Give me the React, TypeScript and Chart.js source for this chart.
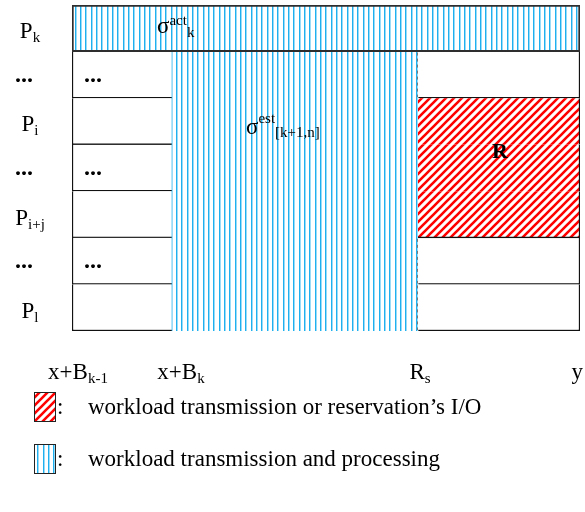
import React, { useEffect, useRef } from 'react';
import { Chart, registerables } from 'chart.js';

Chart.register(...registerables);

// ---- data ----
const rowNames = ['P', '...', 'P', '...', 'P', '...', 'P'];
const rowSubs = ['k', '', 'i', '', 'i+j', '', 'l'];

const xBreaks = [0, 100, 346, 508];
const xTickMain = ['x+B', 'x+B', 'R', 'y'];
const xTickSubs = ['k-1', 'k', 's', ''];

// floating spans [start, end] per row (null = nothing in that row)
const actualSpan = [[0, 508], null, null, null, null, null, null];
const estimateSpan = [null, [100, 346], [100, 346], [100, 346], [100, 346], [100, 346], [100, 346]];
const reservationSpan = [null, null, [346, 508], [346, 508], [346, 508], null, null];
const leftCellSpan = [null, [0, 100], [0, 100], [0, 100], [0, 100], [0, 100], [0, 100]];
const rightCellSpan = [null, [346, 508], null, null, null, [346, 508], [346, 508]];
const cellDotRows = [1, 3, 5];

const legendTexts = ["workload transmission or reservation\u2019s I/O", 'workload transmission and processing'];

// ---- styling helpers ----
const SERIF = '"Liberation Serif", "Times New Roman", serif';
type Part = { t: string; size: number; dy: number; bold?: boolean };
const fontOf = (p: Part) => `${p.bold ? 'bold ' : ''}${p.size}px ${SERIF}`;

function partsWidth(ctx: CanvasRenderingContext2D, parts: Part[]) {
  let w = 0;
  for (const p of parts) {
    ctx.font = fontOf(p);
    w += ctx.measureText(p.t).width;
  }
  return w;
}

function drawParts(ctx: CanvasRenderingContext2D, parts: Part[], x: number, y: number, align: 'left' | 'center' = 'left') {
  let cx = align === 'center' ? x - partsWidth(ctx, parts) / 2 : x;
  ctx.textAlign = 'left';
  ctx.textBaseline = 'alphabetic';
  for (const p of parts) {
    ctx.font = fontOf(p);
    ctx.fillText(p.t, cx, y + p.dy);
    cx += ctx.measureText(p.t).width;
  }
}

const withSub = (main: string, sub: string, bold = false): Part[] => {
  const out: Part[] = [{ t: main, size: 23, dy: 0, bold }];
  if (sub) out.push({ t: sub, size: 15, dy: 4 });
  return out;
};

function makeBluePattern(ctx: CanvasRenderingContext2D) {
  const c = document.createElement('canvas');
  c.width = 16;
  c.height = 16;
  const g = c.getContext('2d')!;
  g.fillStyle = '#ffffff';
  g.fillRect(0, 0, 16, 16);
  for (const x of [0, 5, 11]) {
    g.fillStyle = '#1fb0ef';
    g.fillRect(x, 0, 1, 16);
    g.fillStyle = 'rgba(31,176,239,0.45)';
    g.fillRect(x + 1, 0, 1, 16);
  }
  return ctx.createPattern(c, 'repeat')!;
}

function makeRedPattern(ctx: CanvasRenderingContext2D) {
  const s = 8;
  const c = document.createElement('canvas');
  c.width = s;
  c.height = s;
  const g = c.getContext('2d')!;
  g.fillStyle = '#ffffff';
  g.fillRect(0, 0, s, s);
  g.strokeStyle = '#ff0000';
  g.lineWidth = 2.6;
  g.beginPath();
  g.moveTo(-2, s + 2);
  g.lineTo(s + 2, -2);
  g.moveTo(-4, 4);
  g.lineTo(4, -4);
  g.moveTo(s - 4, s + 4);
  g.lineTo(s + 4, s - 4);
  g.stroke();
  return ctx.createPattern(c, 'repeat')!;
}

const textPlugin = {
  id: 'diagramText',
  afterDatasetsDraw(chart: any) {
    const { ctx, scales, chartArea } = chart;
    const xs = scales.x;
    const ys = scales.y;
    const band = (chartArea.bottom - chartArea.top) / rowNames.length;
    ctx.save();

    // dashed boundary at R_s where no reservation block
    ctx.strokeStyle = '#7a7a7a';
    ctx.lineWidth = 1;
    ctx.setLineDash([3, 3]);
    const dx = Math.round(xs.getPixelForValue(xBreaks[2])) - 0.5;
    for (let i = 1; i < rowNames.length; i++) {
      if (reservationSpan[i]) continue;
      const cy = ys.getPixelForValue(i);
      ctx.beginPath();
      ctx.moveTo(dx, cy - band / 2 + 1);
      ctx.lineTo(dx, cy + band / 2 - 1);
      ctx.stroke();
    }
    ctx.setLineDash([]);

    ctx.fillStyle = '#000';
    // row labels
    for (let i = 0; i < rowNames.length; i++) {
      const cy = ys.getPixelForValue(i);
      if (rowNames[i] === '...') {
        drawParts(ctx, [{ t: '...', size: 24, dy: 0, bold: true }], chartArea.left - 48, cy + 7, 'center');
      } else {
        drawParts(ctx, withSub(rowNames[i], rowSubs[i]), chartArea.left - 42, cy + 10, 'center');
      }
    }
    // dots inside left cells
    for (const r of cellDotRows) {
      const cy = ys.getPixelForValue(r);
      drawParts(ctx, [{ t: '...', size: 24, dy: 0, bold: true }], xs.getPixelForValue(xBreaks[0]) + 21, cy + 7, 'center');
    }
    // x tick labels
    const baseY = chartArea.bottom + 48;
    const shifts = [6, 9, 2, 0];
    for (let i = 0; i < xBreaks.length; i++) {
      const parts = withSub(xTickMain[i], xTickSubs[i]);
      const w = partsWidth(ctx, parts);
      let cx = xs.getPixelForValue(xBreaks[i]) + shifts[i];
      cx = Math.min(cx, chart.width - 2 - w / 2);
      drawParts(ctx, parts, cx, baseY, 'center');
    }
    // sigma act
    drawParts(
      ctx,
      [
        { t: '\u03c3', size: 23, dy: 0 },
        { t: 'act', size: 15, dy: -8 },
        { t: 'k', size: 15, dy: 4 },
      ],
      xs.getPixelForValue(85),
      ys.getPixelForValue(0) + 5,
    );
    // sigma est
    drawParts(
      ctx,
      [
        { t: '\u03c3', size: 23, dy: 0 },
        { t: 'est', size: 15, dy: -11 },
        { t: '[k+1,n]', size: 15, dy: 3 },
      ],
      xs.getPixelForValue(174),
      ys.getPixelForValue(2) + 13,
    );
    // R label
    drawParts(ctx, [{ t: 'R', size: 22, dy: 0, bold: true }], xs.getPixelForValue(428), ys.getPixelForValue(3) - 10, 'center');

    // legend
    const items = [
      { fill: chart.data.datasets[1].backgroundColor, text: legendTexts[0], top: 392 },
      { fill: chart.data.datasets[2].backgroundColor, text: legendTexts[1], top: 444 },
    ];
    for (const it of items) {
      ctx.fillStyle = it.fill;
      ctx.fillRect(34, it.top, 22, 30);
      ctx.strokeStyle = '#222';
      ctx.lineWidth = 1;
      ctx.strokeRect(34.5, it.top + 0.5, 21, 29);
      ctx.fillStyle = '#000';
      drawParts(ctx, [{ t: ':', size: 23, dy: 0 }], 57, it.top + 22);
      drawParts(ctx, [{ t: it.text, size: 23, dy: 0 }], 88, it.top + 22);
    }
    ctx.restore();
  },
};

export default function App() {
  const ref = useRef<HTMLCanvasElement>(null);
  useEffect(() => {
    const canvas = ref.current!;
    const ctx = canvas.getContext('2d')!;
    const blue = makeBluePattern(ctx);
    const red = makeRedPattern(ctx);
    const labels = rowNames.map((n, i) => (rowSubs[i] ? `${n}_${rowSubs[i]}` : n));
    const chart = new Chart(ctx, {
      type: 'bar',
      data: {
        labels,
        datasets: [
          {
            label: 'actual',
            data: actualSpan as any,
            backgroundColor: blue,
            borderColor: '#2e2e2e',
            borderWidth: 2,
            order: 1,
          },
          {
            label: 'reservation',
            data: reservationSpan as any,
            backgroundColor: red,
            borderColor: '#111',
            borderWidth: (c: any) => ({
              top: 0,
              left: 0,
              right: 1.5,
              bottom: c.dataIndex === 4 ? 1.5 : 0,
            }),
            order: 2,
          },
          {
            label: 'estimate',
            data: estimateSpan as any,
            backgroundColor: blue,
            borderWidth: 0,
            order: 3,
          },
          {
            label: 'left cells',
            data: leftCellSpan as any,
            backgroundColor: '#ffffff',
            borderColor: '#111',
            borderWidth: { top: 0, bottom: 1.5, left: 1.5, right: 0 },
            order: 4,
          },
          {
            label: 'right cells',
            data: rightCellSpan as any,
            backgroundColor: '#ffffff',
            borderColor: '#111',
            borderWidth: { top: 0, bottom: 1.5, left: 0, right: 1.5 },
            order: 4,
          },
        ],
      },
      options: {
        indexAxis: 'y',
        animation: false,
        responsive: false,
        events: [],
        layout: { padding: { left: 72, right: 5, top: 5, bottom: 181 } },
        scales: {
          x: { type: 'linear', min: 0, max: 508, display: false },
          y: { type: 'category', display: false, offset: true },
        },
        datasets: {
          bar: {
            grouped: false,
            categoryPercentage: 1,
            barPercentage: 1,
            borderSkipped: false,
          } as any,
        },
        plugins: { legend: { display: false }, tooltip: { enabled: false } },
      } as any,
      plugins: [textPlugin],
    });
    return () => chart.destroy();
  }, []);
  return (
    <div style={{ position: 'absolute', left: 0, top: 0, width: 585, height: 512, background: '#fff' }}>
      <canvas ref={ref} width={585} height={512} style={{ display: 'block', width: 585, height: 512 }} />
    </div>
  );
}
